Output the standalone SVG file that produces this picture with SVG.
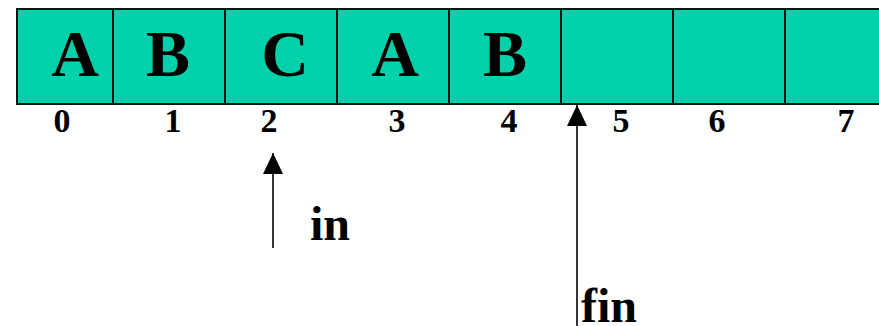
<svg xmlns="http://www.w3.org/2000/svg" width="879" height="326" viewBox="0 0 879 326">
  <style>
    .cell { fill: #00D1AA; stroke: #111; stroke-width: 2; }
    .val { font-family: "Liberation Serif", "Times New Roman", serif; font-weight: bold; font-size: 66px; text-anchor: middle; fill: #000; }
    .idx { font-family: "Liberation Serif", "Times New Roman", serif; font-weight: bold; font-size: 34px; text-anchor: middle; fill: #000; }
    .ptr { font-family: "Liberation Serif", "Times New Roman", serif; font-weight: bold; font-size: 48px; fill: #000; }
    .conn { stroke: #000; stroke-width: 1.6; fill: none; }
  </style>
  <defs>
    <!-- filled triangular head pointing along the line direction -->
    <marker id="head" markerWidth="21" markerHeight="20" refX="21" refY="10" orient="auto" markerUnits="userSpaceOnUse" viewBox="0 0 21 20">
      <path d="M0,0 L21,10 L0,20 Z" fill="#000"/>
    </marker>
  </defs>

  <rect width="879" height="326" fill="#fff"/>

  <!-- array cells -->
  <g id="cell0"><rect class="cell" x="17" y="9" width="96" height="95"/><text class="val" x="75" y="76">A</text></g>
  <g id="cell1"><rect class="cell" x="113" y="9" width="112" height="95"/><text class="val" x="168" y="76">B</text></g>
  <g id="cell2"><rect class="cell" x="225" y="9" width="112" height="95"/><text class="val" x="285" y="76">C</text></g>
  <g id="cell3"><rect class="cell" x="337" y="9" width="112" height="95"/><text class="val" x="395" y="76">A</text></g>
  <g id="cell4"><rect class="cell" x="449" y="9" width="112" height="95"/><text class="val" x="505" y="76">B</text></g>
  <g id="cell5"><rect class="cell" x="561" y="9" width="112" height="95"/></g>
  <g id="cell6"><rect class="cell" x="673" y="9" width="112" height="95"/></g>
  <g id="cell7"><rect class="cell" x="785" y="9" width="112" height="95"/></g>

  <!-- indices -->
  <g id="indices">
    <text class="idx" x="62" y="132">0</text>
    <text class="idx" x="173" y="132">1</text>
    <text class="idx" x="269" y="132">2</text>
    <text class="idx" x="397" y="132">3</text>
    <text class="idx" x="509" y="132">4</text>
    <text class="idx" x="621" y="132">5</text>
    <text class="idx" x="717" y="132">6</text>
    <text class="idx" x="846" y="132">7</text>
  </g>

  <!-- pointers -->
  <g id="connectors">
    <line class="conn" x1="273" y1="248" x2="273" y2="153" marker-end="url(#head)"/>
    <line class="conn" x1="577" y1="326" x2="577" y2="105" marker-end="url(#head)"/>
  </g>

  <g id="ptr-in"><text class="ptr" x="310" y="240">in</text></g>
  <g id="ptr-fin"><text class="ptr" x="581" y="322">fin</text></g>
</svg>
